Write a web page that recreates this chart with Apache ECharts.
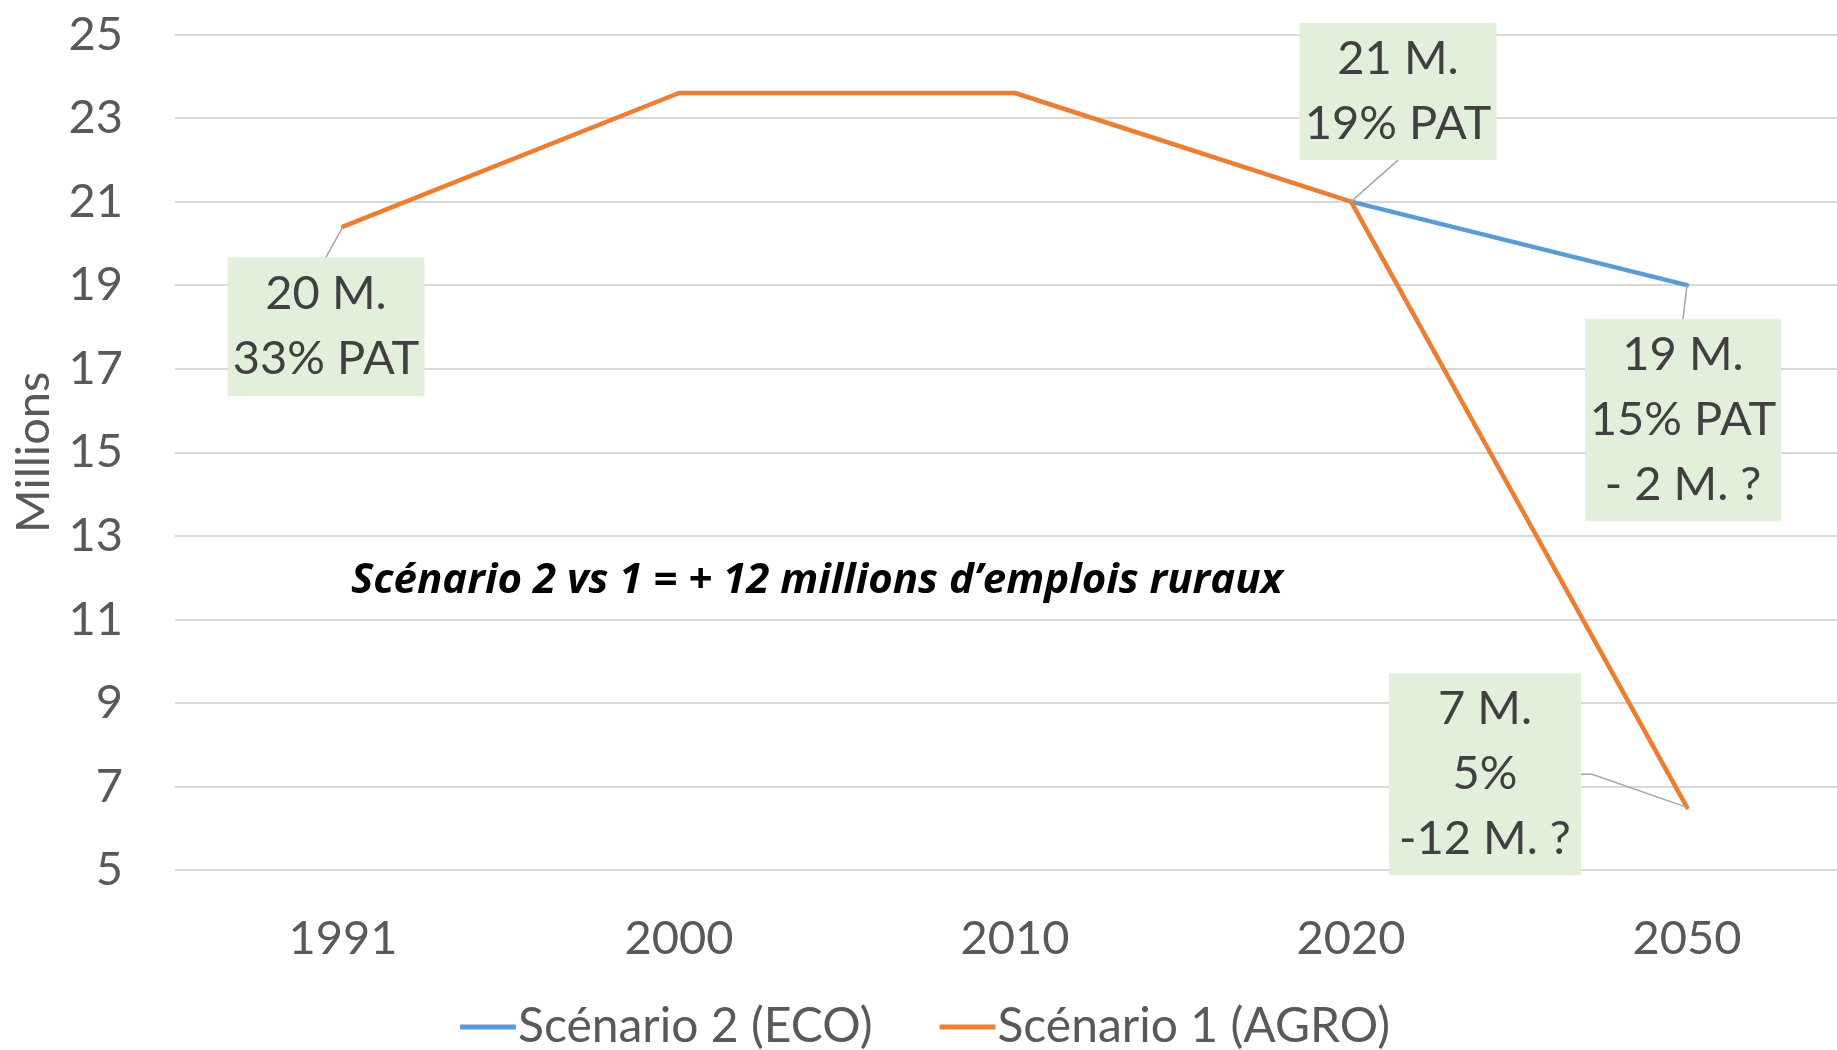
<!DOCTYPE html>
<html>
<head>
<meta charset="utf-8">
<script src="https://cdn.jsdelivr.net/npm/echarts@6/dist/echarts.min.js"></script>
<style>
html, body { margin: 0; padding: 0; background: #fff; }
#main { width: 1837px; height: 1050px; }
</style>
</head>
<body>
<div id="main"></div>
<script>
var years = ['1991', '2000', '2010', '2020', '2050'];
var ecoValues = [null, null, null, 21, 19];
var agroValues = [20.4, 23.6, 23.6, 21, 6.5];

// call-out boxes
var noteYears = ['1991', '2020', '2050', '2050'];
var noteValues = [20.4, 21, 19, 6.5];
var noteTexts = [
    '20 M.\n33% PAT',
    '21 M.\n19% PAT',
    '19 M.\n15% PAT\n- 2 M. ?',
    '7 M.\n5%\n-12 M. ?'
];
// where each box sits relative to its point (px)
var noteBoxes = [
    {dx: -17, dy: 100, w: 197, h: 139, side: 'top'},
    {dx: 47, dy: -110, w: 197, h: 137, side: 'bottom'},
    {dx: -4, dy: 135, w: 196, h: 202, side: 'top'},
    {dx: -202, dy: -33, w: 192, h: 202, side: 'right'}
];

var fontName = 'Lato';
var tickColor = '#595959';

function renderNote(params, api) {
    var i = params.dataIndex;
    var b = noteBoxes[i];
    var p = api.coord([api.value(0), api.value(1)]);
    var cx = p[0] + b.dx;
    var cy = p[1] + b.dy;
    var pts;
    if (b.side === 'top') {
        pts = [p, [cx, cy - b.h / 2]];
    } else if (b.side === 'bottom') {
        pts = [p, [cx, cy + b.h / 2]];
    } else {
        pts = [p, [cx + b.w / 2 + 11, cy], [cx + b.w / 2, cy]];
    }
    return {
        type: 'group',
        children: [{
            type: 'polyline',
            shape: {points: pts},
            style: {stroke: '#A6A6A6', lineWidth: 1.5, fill: null}
        }, {
            type: 'rect',
            shape: {x: cx - b.w / 2, y: cy - b.h / 2, width: b.w, height: b.h},
            style: {fill: '#E2EFDA'}
        }, {
            type: 'text',
            x: cx,
            y: cy,
            style: {
                text: noteTexts[i],
                align: 'center',
                verticalAlign: 'middle',
                fontFamily: fontName,
                fontSize: 47,
                lineHeight: 65,
                fill: '#404040'
            }
        }]
    };
}

var chart = echarts.init(document.getElementById('main'));

var option = {
    animation: false,
    title: {
        text: 'Scénario 2 vs 1 = + 12 millions d’emplois ruraux',
        left: 351,
        top: 560,
        padding: 0,
        textStyle: {
            fontFamily: 'Open Sans',
            fontSize: 42,
            fontStyle: 'italic',
            fontWeight: 'bold',
            color: '#000'
        }
    },
    grid: {
        left: 175,
        width: 1680,
        top: 34.5,
        bottom: 180,
        containLabel: false,
        outerBoundsMode: 'none'
    },
    legend: {
        data: ['Scénario 2 (ECO)', 'Scénario 1 (AGRO)'],
        left: 455,
        top: 998,
        itemGap: 67,
        itemWidth: 56,
        itemHeight: 5,
        icon: 'roundRect',
        textStyle: {fontFamily: fontName, fontSize: 48, color: tickColor, padding: [0, 0, 0, -3]}
    },
    xAxis: {
        type: 'category',
        data: years,
        boundaryGap: true,
        axisLine: {show: false},
        axisTick: {show: false},
        axisLabel: {fontFamily: fontName, fontSize: 47, color: tickColor, margin: 45}
    },
    yAxis: {
        type: 'value',
        min: 5,
        max: 25,
        interval: 2,
        name: 'Millions',
        nameLocation: 'middle',
        nameRotate: 90,
        nameGap: 118,
        nameTextStyle: {fontFamily: fontName, fontSize: 47, color: tickColor},
        axisLine: {show: false},
        axisTick: {show: false},
        axisLabel: {fontFamily: fontName, fontSize: 47, color: tickColor, margin: 52},
        splitLine: {lineStyle: {color: '#D9D9D9', width: 2}}
    },
    series: [{
        name: 'Scénario 2 (ECO)',
        type: 'line',
        data: ecoValues,
        symbol: 'none',
        color: '#5B9BD5',
        lineStyle: {width: 4.5, cap: 'round'}
    }, {
        name: 'Scénario 1 (AGRO)',
        type: 'line',
        data: agroValues,
        symbol: 'none',
        color: '#ED7D31',
        lineStyle: {width: 4.5, cap: 'round'}
    }, {
        name: 'notes',
        type: 'custom',
        z: 10,
        clip: false,
        renderItem: renderNote,
        data: noteYears.map(function (y, i) { return [y, noteValues[i]]; })
    }]
};

chart.setOption(option);
</script>
</body>
</html>
